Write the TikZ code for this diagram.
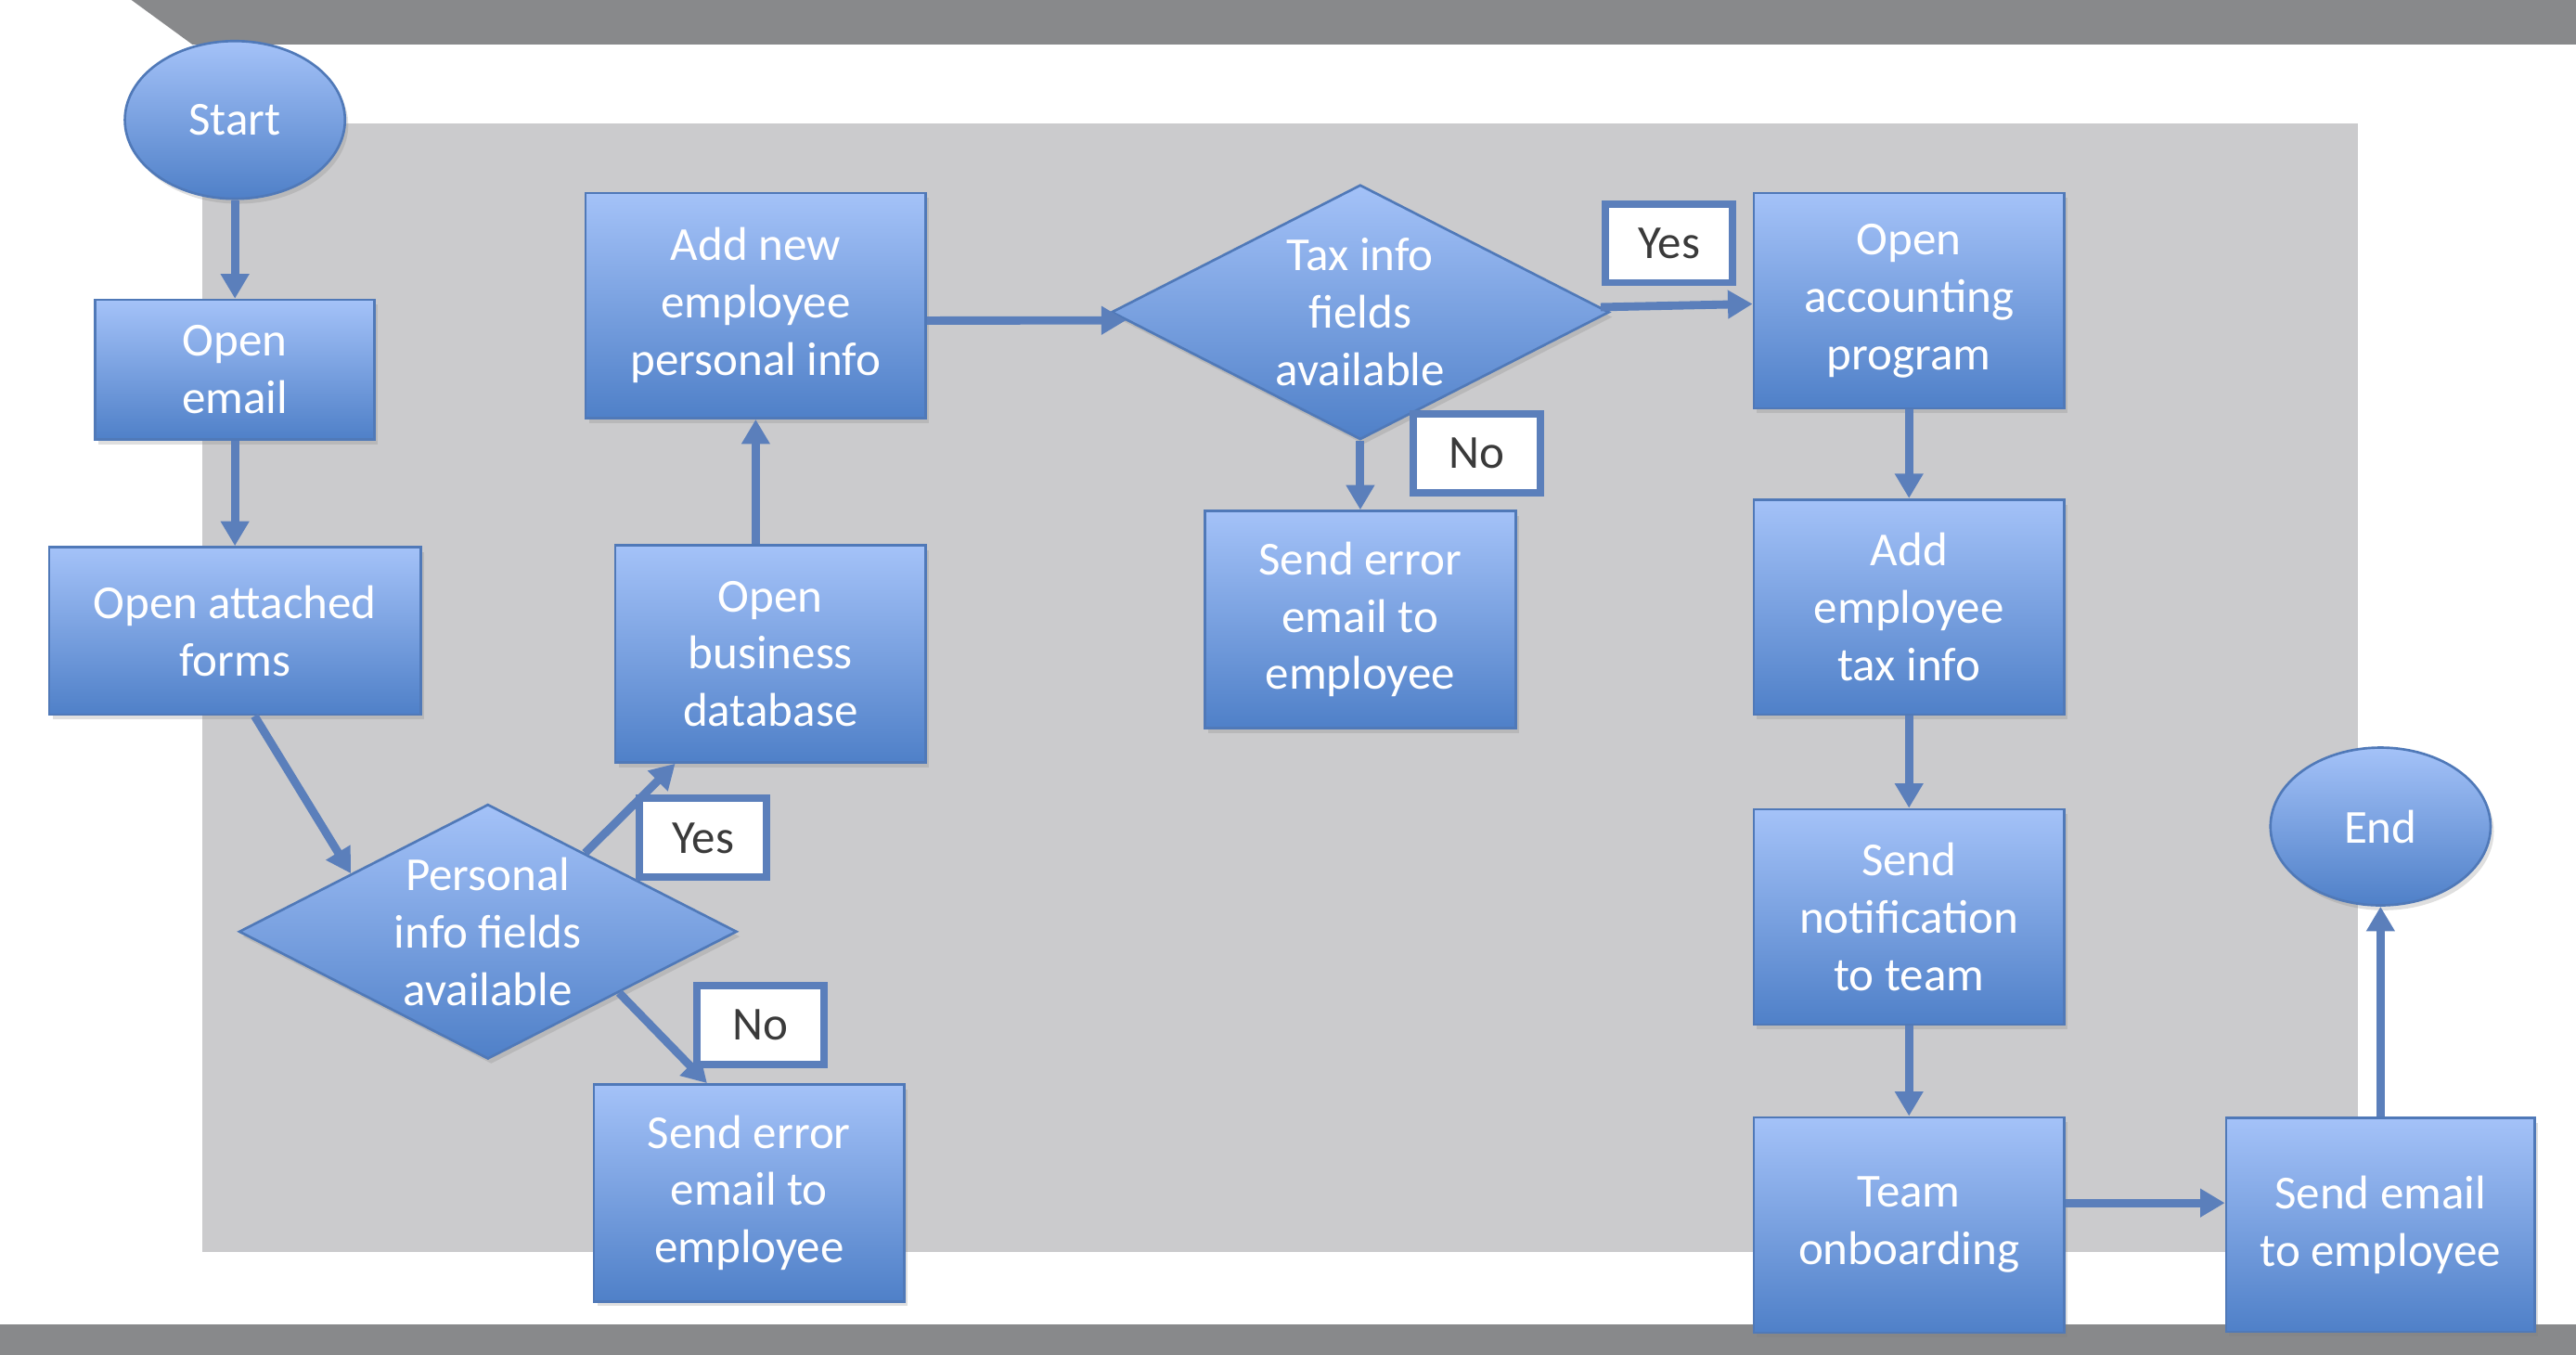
\documentclass[tikz,border=0pt]{standalone}
\usepackage{fontspec}
\setmainfont{Carlito}
\usetikzlibrary{
	positioning,
	shapes.geometric,
	arrows.meta,
	shadows
}
\definecolor{bandgray}{HTML}{88898B}
\definecolor{panelgray}{HTML}{CBCBCD}
\definecolor{boxtop}{HTML}{A4C2F8}
\definecolor{boxbottom}{HTML}{4F80C8}
\definecolor{boxline}{HTML}{5079B8}
\definecolor{flowblue}{HTML}{5B7FBB}
\definecolor{tagtext}{HTML}{3A3A3A}

\begin{document}
\begin{tikzpicture}[
	x=0.2mm, y=-0.2mm,
	node distance =1.1cm,
	every node/.style = {font=\fontsize{16.4}{19.9}\selectfont},
	process/.style = {
		rectangle,
		draw=boxline,
		line width=0.3mm,
		top color=boxtop, bottom color=boxbottom,
		text=white, align=center,
		drop shadow={opacity=0.25, shadow xshift=0.4mm, shadow yshift=-0.6mm},
		minimum width=3.78cm,
		minimum height=2.62cm
	},
	decision/.style = {
		process,
		diamond,
		aspect=2,
		inner sep=-3pt,
		minimum width=6.06cm,
		minimum height=3.1cm
	},
	terminal/.style = {
		process,
		ellipse,
		minimum width=2.68cm,
		minimum height=1.92cm
	},
	tag/.style = {
		rectangle,
		draw=flowblue,
		line width=0.9mm,
		fill=white,
		text=tagtext,
		minimum width=1.55cm,
		minimum height=0.96cm
	},
	flow/.style = {
		draw=flowblue,
		line width=1mm,
		-{Triangle[length=3mm,width=3.3mm]}
	},
]
	\useasboundingbox (0,0) rectangle (1568,824.6);
	\fill[bandgray] (80,0) -- (1568,0) -- (1568,27) -- (117,27) -- cycle;
	\fill[panelgray] (123,75) rectangle (1435,762);
	\fill[bandgray] (0,806) rectangle (1568,824.6);

	\node (email) [process, minimum width=3.4cm, minimum height=1.7cm] at (143,225) {Open\\email};
	\node (start) [terminal, above=1.2cm of email] {Start};
	\node (forms) [process, minimum width=4.52cm, minimum height=2.04cm, below=1.28cm of email] {Open attached\\forms};

	\node (pinfo) [decision] at (297,567) {Personal\\info fields\\available};
	\node (openbiz) [process, minimum height=2.64cm] at (469,398) {Open\\business\\database};
	\node (adddata) [process, minimum width=4.14cm, minimum height=2.74cm] at (460,186) {Add new\\employee\\personal info};
	\node (errone) [process, minimum height=2.64cm] at (456,726) {Send error\\email to\\employee};

	\node (tax) [decision] at (828,190) {Tax info\\fields\\available};
	\node (errtwo) [process, minimum height=2.64cm, below=0.84cm of tax] {Send error\\email to\\employee};

	\node (account) [process] at (1162,183) {Open\\accounting\\program};
	\node (addtax) [process, below=1.08cm of account] {Add\\employee\\tax info};
	\node (notify) [process, below=1.12cm of addtax] {Send\\notification\\to team};
	\node (team) [process, below=1.1cm of notify] {Team\\onboarding};
	\node (sendmail) [process, minimum width=3.76cm, minimum height=2.6cm, right=1.94cm of team] {Send email\\to employee};
	\node (end) [terminal, above=2.56cm of sendmail] {End};

	\draw[flow] (start) -- (email);
	\draw[flow] (email) -- (forms);
	\draw[flow] (forms.-77) -- (pinfo.157);
	\draw[flow] (pinfo.39) -- (openbiz.229);
	\draw[flow] (pinfo.-25) -- (errone.111);
	\draw[flow] (openbiz.north -| adddata.south) -- (adddata.south);
	\draw[flow] (adddata.-5) -- (tax.182);
	\draw[flow] (tax) -- (account);
	\draw[flow] (tax) -- (errtwo);
	\draw[flow] (account) -- (addtax);
	\draw[flow] (addtax) -- (notify);
	\draw[flow] (notify) -- (team);
	\draw[flow] (team.8) -- (team.8 -| sendmail.west);
	\draw[flow] (sendmail) -- (end);

	\node (yesone) [tag] at (428,510) {Yes};
	\node (noone) [tag] at (463,624) {No};
	\node (yestwo) [tag] at (1016,148) {Yes};
	\node (notwo) [tag] at (899,276) {No};
\end{tikzpicture}
\end{document}
